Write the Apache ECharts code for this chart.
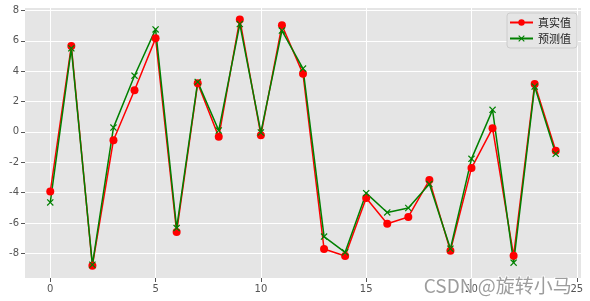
<!DOCTYPE html>
<html>
<head>
<meta charset="utf-8">
<script src="https://cdn.jsdelivr.net/npm/echarts@6/dist/echarts.min.js"></script>
<style>
html,body{margin:0;padding:0;background:#fff;}
#chart{width:590px;height:301px;}
</style>
</head>
<body>
<div id="chart"></div>
<script>
var xIndex = [0,1,2,3,4,5,6,7,8,9,10,11,12,13,14,15,16,17,18,19,20,21,22,23,24];
var realValues = [-3.93,5.66,-8.82,-0.55,2.74,6.16,-6.6,3.2,-0.33,7.41,-0.22,7.02,3.82,-7.72,-8.18,-4.36,-6.05,-5.61,-3.18,-7.83,-2.39,0.24,-8.16,3.16,-1.25];
var predValues = [-4.65,5.5,-8.75,0.28,3.7,6.75,-6.34,3.29,0.09,7.1,-0.04,6.67,4.17,-6.9,-7.94,-4.04,-5.31,-5.02,-3.44,-7.7,-1.78,1.45,-8.62,2.98,-1.45];
var xTicks = [0,5,10,15,20,25];
var yTicks = [-8,-6,-4,-2,0,2,4,6,8];
var seriesNames = ['真实值','预测值'];

var realData = xIndex.map(function(x,i){return [x, realValues[i]];});
var predData = xIndex.map(function(x,i){return [x, predValues[i]];});

var xMark = 'path://M0,1.2L1.2,0L5,3.8L8.8,0L10,1.2L6.2,5L10,8.8L8.8,10L5,6.2L1.2,10L0,8.8L3.8,5Z';
var font = 'DejaVu Sans, "Noto Sans CJK SC", sans-serif';

var chart = echarts.init(document.getElementById('chart'), null, {renderer:'canvas'});
chart.setOption({
  animation:false,
  backgroundColor:'#ffffff',
  grid:{left:25,right:9,top:8,bottom:23,show:true,backgroundColor:'#E5E5E5',borderWidth:0},
  xAxis:{
    type:'value',min:-1.2,max:25.2,
    axisLine:{show:false,onZero:false},
    axisTick:{show:true,length:4,lineStyle:{color:'#555',width:1},customValues:xTicks},
    axisLabel:{color:'#555',fontSize:10,fontFamily:font,margin:6,customValues:xTicks,showMinLabel:true,showMaxLabel:true},
    splitLine:{show:true,lineStyle:{color:'#ffffff',width:1}}
  },
  yAxis:{
    type:'value',min:-9.63,max:8.16,
    axisLine:{show:false,onZero:false},
    axisTick:{show:true,length:4,lineStyle:{color:'#555',width:1},customValues:yTicks},
    axisLabel:{color:'#555',fontSize:10,fontFamily:font,margin:6,customValues:yTicks,formatter:function(v){return String(v).replace('\u2212','-');}},
    splitLine:{show:true,lineStyle:{color:'#ffffff',width:1}}
  },
  legend:{
    right:13,top:13,orient:'vertical',
    itemWidth:23,itemHeight:8,itemGap:5,
    padding:[4,6,4,2],
    backgroundColor:'#E5E5E5',borderColor:'#cccccc',borderWidth:1,borderRadius:3,
    textStyle:{fontSize:11,color:'#222',fontFamily:'"Noto Sans CJK SC", sans-serif'},
    data:seriesNames
  },
  series:[
    {name:seriesNames[0],type:'line',data:realData,color:'red',
     symbol:'circle',symbolSize:8,
     lineStyle:{color:'red',width:1.5},
     itemStyle:{color:'red'}},
    {name:seriesNames[1],type:'line',data:predData,color:'green',
     symbol:xMark,symbolSize:7,
     lineStyle:{color:'green',width:1.5},
     itemStyle:{color:'green'}}
  ],
  graphic:[{
    type:'text',left:423,top:276,z:100,
    style:{text:'CSDN @旋转小马',fontSize:19,fill:'rgba(140,140,140,0.85)',stroke:'#ffffff',lineWidth:1.5,
      fontFamily:'"Noto Sans CJK SC", sans-serif'}
  }]
});
</script>
</body>
</html>
